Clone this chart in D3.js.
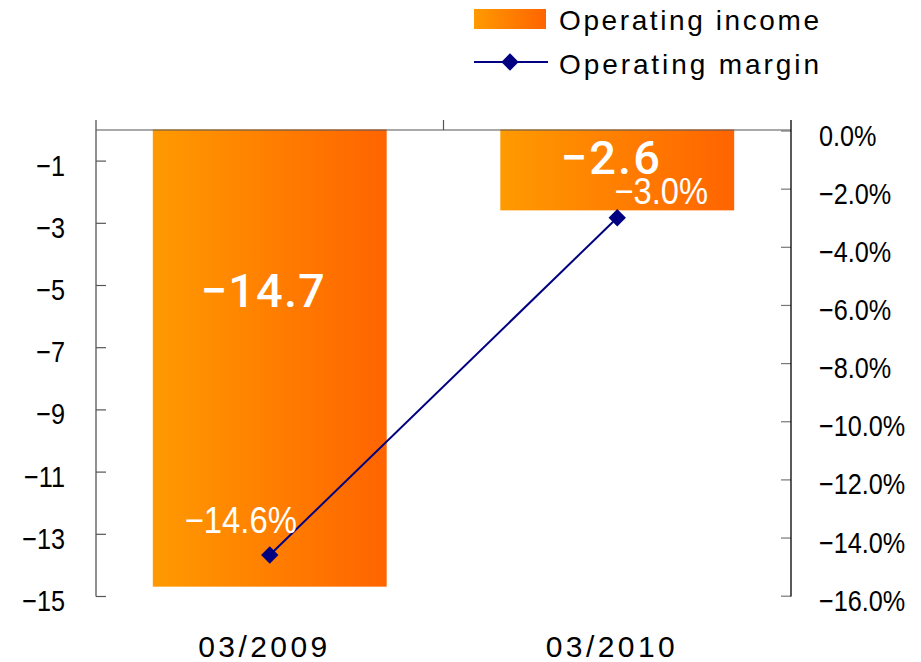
<!DOCTYPE html>
<html><head><meta charset="utf-8">
<script src="https://cdn.jsdelivr.net/npm/d3@7"></script>
<style>html,body{margin:0;padding:0;background:#fff;}svg{display:block;}</style>
</head><body>
<svg id="chart" width="921" height="662"></svg>
<script>
// ---- data ----
const categories = ["03/2009", "03/2010"];
const operatingIncome = [-14.7, -2.6];
const operatingMargin = [-14.6, -3.0];
const leftTicks = [-1, -3, -5, -7, -9, -11, -13, -15];
const rightTicks = [0, -2, -4, -6, -8, -10, -12, -14, -16];
const seriesNames = ["Operating income", "Operating margin"];

// ---- layout ----
const svg = d3.select("#chart");
const X0 = 96, X1 = 791, YTOP = 129.5, YBOT = 596;
const x = d3.scaleBand().domain(categories).range([X0, X1]).paddingInner(0.327).paddingOuter(0.1635);
const yL = d3.scaleLinear().domain([0, -15]).range([YTOP, YBOT]);
const yR = d3.scaleLinear().domain([0, -16]).range([130.5, 595.7]);
const FONT = "'Liberation Sans', Arial, sans-serif";

const defs = svg.append("defs");
const grad = defs.append("linearGradient").attr("id", "barGrad").attr("x1", "0").attr("x2", "1").attr("y1", "0").attr("y2", "0");
grad.append("stop").attr("offset", "0%").attr("stop-color", "#FF9A00");
grad.append("stop").attr("offset", "100%").attr("stop-color", "#FF6400");

// bars
svg.append("g").selectAll("rect").data(operatingIncome).join("rect")
  .attr("x", (d, i) => x(categories[i]))
  .attr("y", yL(0))
  .attr("width", x.bandwidth())
  .attr("height", d => yL(d) - yL(0))
  .attr("fill", "url(#barGrad)");

// top baseline and category divider ticks
svg.append("line").attr("x1", X0).attr("x2", X1).attr("y1", 130).attr("y2", 130).attr("stroke", "#555").attr("stroke-width", 1.2);
const midX = (x(categories[0]) + x.bandwidth() + x(categories[1])) / 2;
svg.append("line").attr("x1", midX).attr("x2", midX).attr("y1", 120).attr("y2", 130).attr("stroke", "#555").attr("stroke-width", 1.2);

// left axis
const gL = svg.append("g").attr("transform", `translate(${X0},0)`)
  .call(d3.axisLeft(yL).tickValues(leftTicks).tickSizeInner(-10).tickSizeOuter(0).tickPadding(31).tickFormat(d3.format("d")));
gL.select(".domain").remove();
gL.selectAll(".tick line").attr("stroke", "#555").attr("stroke-width", 1.2);
gL.selectAll(".tick text").attr("font-family", FONT).attr("font-size", 29).attr("fill", "#000").attr("dy", "0.5em");
svg.append("line").attr("x1", X0).attr("x2", X0).attr("y1", 120).attr("y2", 596.5).attr("stroke", "#555").attr("stroke-width", 1.3);

// right axis
const gR = svg.append("g").attr("transform", `translate(${X1},0)`)
  .call(d3.axisRight(yR).tickValues(rightTicks).tickSizeInner(-10).tickSizeOuter(0).tickPadding(28).tickFormat(d => d3.format(".1f")(d) + "%"));
gR.select(".domain").remove();
gR.selectAll(".tick line").attr("stroke", "#777").attr("stroke-width", 1.2);
gR.selectAll(".tick text").attr("font-family", FONT).attr("font-size", 29).attr("fill", "#000").attr("dy", "0.5em");
svg.append("line").attr("x1", X1).attr("x2", X1).attr("y1", 120).attr("y2", 596.5).attr("stroke", "#000").attr("stroke-width", 1.3);

// compress tick labels horizontally
svg.selectAll(".tick text").each(function () {
  const w = this.getComputedTextLength();
  d3.select(this).attr("textLength", w * 0.87).attr("lengthAdjust", "spacingAndGlyphs");
});

// category labels
svg.append("g").selectAll("text").data(categories).join("text")
  .attr("x", d => x(d) + x.bandwidth() / 2 - 7)
  .attr("y", 657)
  .attr("text-anchor", "middle")
  .attr("font-family", FONT).attr("font-size", 30).attr("fill", "#000")
  .attr("textLength", 129).attr("lengthAdjust", "spacing")
  .text(d => d);

// margin line
const cx = (d, i) => x(categories[i]) + x.bandwidth() / 2;
const line = d3.line().x((d, i) => cx(d, i)).y(d => yR(d));
svg.append("path").datum(operatingMargin).attr("d", line).attr("fill", "none").attr("stroke", "#000080").attr("stroke-width", 2);
const diamond = d3.symbol().type(d3.symbolSquare).size(150);
svg.append("g").selectAll("path").data(operatingMargin).join("path")
  .attr("d", diamond)
  .attr("transform", (d, i) => `translate(${cx(d, i)},${yR(d)}) rotate(45)`)
  .attr("fill", "#000080");

// bar value labels
const barLabelY = [307, 174];
svg.append("g").selectAll("text").data(operatingIncome).join("text")
  .attr("x", (d, i) => x(categories[i]) + x.bandwidth() / 2 - 7)
  .attr("y", (d, i) => barLabelY[i])
  .attr("text-anchor", "middle")
  .attr("font-family", "Roboto, 'Liberation Sans', sans-serif").attr("font-size", 47).attr("font-weight", 500).attr("fill", "#fff")
  .attr("textLength", d => String(d3.format(".1f")(d)).length * 24.8).attr("lengthAdjust", "spacing")
  .text(d => d3.format(".1f")(d));

// margin value labels
const marginLabelDx = [-29, 44];
const marginLabelDy = [-22, -14];
svg.append("g").selectAll("text").data(operatingMargin).join("text")
  .attr("x", (d, i) => cx(d, i) + marginLabelDx[i])
  .attr("y", (d, i) => yR(d) + marginLabelDy[i])
  .attr("text-anchor", "middle")
  .attr("font-family", FONT).attr("font-size", 37).attr("fill", "#fff")
  .attr("textLength", d => (d3.format(".1f")(d) + "%").length * 18.7).attr("lengthAdjust", "spacingAndGlyphs")
  .text(d => d3.format(".1f")(d) + "%");

// legend
const lg = svg.append("g");
lg.append("rect").attr("x", 474).attr("y", 9).attr("width", 72).attr("height", 20).attr("fill", "url(#barGrad)");
lg.append("line").attr("x1", 474).attr("x2", 548).attr("y1", 62).attr("y2", 62).attr("stroke", "#000080").attr("stroke-width", 2);
lg.append("path").attr("d", diamond).attr("transform", "translate(510,62) rotate(45)").attr("fill", "#000080");
lg.selectAll("text.lt").data(seriesNames).join("text").attr("class", "lt")
  .attr("x", 559).attr("y", (d, i) => 30 + i * 44)
  .attr("font-family", FONT).attr("font-size", 28).attr("fill", "#000")
  .attr("textLength", d => d.length * 16.25).attr("lengthAdjust", "spacing")
  .text(d => d);
</script>
</body></html>
